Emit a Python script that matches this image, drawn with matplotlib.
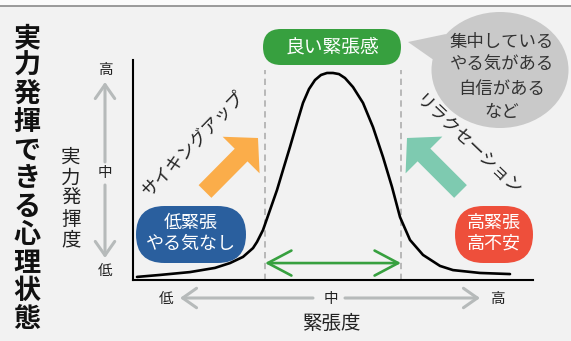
import matplotlib
matplotlib.use("Agg")
import matplotlib.pyplot as plt
from matplotlib.patches import FancyBboxPatch, Ellipse, Polygon, FancyArrow, Rectangle

plt.rcParams['font.family'] = ['Noto Sans CJK JP', 'DejaVu Sans']

# ---- data (tension 0-100 on x, performance 0-100 on y) ----
tension = [1.0, 6.75, 14.25, 20.5, 24.25, 27.5, 30.0, 31.0, 32.5, 34.25, 36.0, 37.5, 39.25,
           41.0, 42.5, 44.0, 45.5, 47.0, 48.5, 50.0, 51.5, 53.0, 55.0, 57.5, 60.0, 62.5,
           64.75, 66.75, 69.25, 72.5, 76.75, 80.0, 86.75, 94.25]
performance = [1.4, 2.3, 3.6, 5.5, 7.7, 10.5, 14.5, 17.3, 22.7, 31.8, 40.9, 50.0, 60.5,
               71.4, 80.5, 86.8, 90.9, 93.2, 94.1, 94.1, 93.6, 91.8, 87.7, 80.5, 69.5, 55.9,
               42.3, 28.6, 18.2, 11.4, 6.4, 4.5, 3.2, 2.7]
good_zone = [33, 67]
good_zone_top = 95.5
green_arrow_level = 7.7

title_text = "実力発揮できる心理状態"
y_label = "実力発揮度"
x_label = "緊張度"
level_labels = ["低", "中", "高"]
good_label = "良い緊張感"
low_label = ["低緊張", "やる気なし"]
high_label = ["高緊張", "高不安"]
bubble_lines = ["集中している", "やる気がある", "自信がある", "など"]
psych_up = "サイキングアップ"
relax = "リラクセーション"

BG = "#f2f2f2"
GRAY = "#b6baba"
GREEN = "#37a03f"
BLUE = "#2a5f9e"
RED = "#ee4f3b"
ORANGE = "#fbad4a"
TEAL = "#7ecab0"
TXT = "#222222"

W, H = 571, 341
fig = plt.figure(figsize=(W / 100, H / 100), dpi=100, facecolor=BG)

# background / overlay pixel axes
bg = fig.add_axes([0, 0, 1, 1], zorder=0)
bg.set_xlim(0, W); bg.set_ylim(H, 0); bg.axis('off')
bg.add_patch(Rectangle((0, 0), W, 6, facecolor="#fbfbfb", edgecolor='none'))
bg.plot([0, W], [6, 6], color="#8a8a8a", lw=1.2)

# chart axes
L, R, T, B = 133, 533, 60, 280
ax = fig.add_axes([L / W, (H - B) / H, (R - L) / W, (B - T) / H], zorder=1)
ax.set_facecolor('none')
ax.set_xlim(0, 100); ax.set_ylim(0, 100)
for s in ['top', 'right']:
    ax.spines[s].set_visible(False)
for s in ['left', 'bottom']:
    ax.spines[s].set_linewidth(1.5)
    ax.spines[s].set_color('black')
ax.set_xticks([]); ax.set_yticks([])

for gx in good_zone:
    ax.plot([gx, gx], [0, good_zone_top], color="#b3b3b3", lw=1.3, ls=(0, (3.5, 2.5)), zorder=1)
ax.plot(tension, performance, color='black', lw=1.9, solid_joinstyle='round',
        solid_capstyle='round', zorder=3)
ax.annotate('', xy=(good_zone[0], green_arrow_level), xytext=(good_zone[1], green_arrow_level),
            arrowprops=dict(arrowstyle='<->,head_length=0.85,head_width=0.45', lw=1.9,
                            color=GREEN, shrinkA=0, shrinkB=0, mutation_scale=20), zorder=3)

# overlay
ov = fig.add_axes([0, 0, 1, 1], zorder=2)
ov.set_facecolor('none')
ov.set_xlim(0, W); ov.set_ylim(H, 0); ov.axis('off')

# title (vertical)
for i, ch in enumerate(title_text):
    ov.text(27, 38 + i * 28.1, ch, fontsize=19.5, fontweight='bold', color="#111111",
            ha='center', va='center')
# y label (vertical)
for i, ch in enumerate(y_label):
    ov.text(71, 157 + i * 20.8, ch, fontsize=14, color=TXT, ha='center', va='center')

# vertical level scale
ov.text(105, 70, level_labels[2], fontsize=10.5, color=TXT, ha='center', va='center')
ov.text(105, 173, level_labels[1], fontsize=10.5, color=TXT, ha='center', va='center')
ov.text(105, 271, level_labels[0], fontsize=10.5, color=TXT, ha='center', va='center')
aprops = dict(arrowstyle='->,head_length=0.5,head_width=0.35', lw=2.2, color=GRAY,
              shrinkA=0, shrinkB=0, mutation_scale=20)
ov.annotate('', xy=(105, 82), xytext=(105, 162), arrowprops=aprops)
ov.annotate('', xy=(105, 258), xytext=(105, 185), arrowprops=aprops)

# horizontal level scale
ov.text(166, 299, level_labels[0], fontsize=10.5, color=TXT, ha='center', va='center')
ov.text(331, 299, level_labels[1], fontsize=10.5, color=TXT, ha='center', va='center')
ov.text(497, 299, level_labels[2], fontsize=10.5, color=TXT, ha='center', va='center')
ov.annotate('', xy=(180, 298), xytext=(313, 298), arrowprops=aprops)
ov.annotate('', xy=(480, 298), xytext=(345, 298), arrowprops=aprops)
ov.text(331, 323, x_label, fontsize=14, color=TXT, ha='center', va='center')

# pills
def pill(x0, x1, y0, y1, color):
    h = y1 - y0
    ov.add_patch(FancyBboxPatch((x0, y0), x1 - x0, h,
                                boxstyle=f"round,pad=0,rounding_size={h / 2}",
                                facecolor=color, edgecolor='none', zorder=2))

pill(263, 401, 29, 65, GREEN)
ov.text(332, 47, good_label, fontsize=13.5, color='white', ha='center', va='center', zorder=3)
pill(136, 246, 206, 263, BLUE)
ov.text(191, 223, low_label[0], fontsize=13, color='white', ha='center', va='center', zorder=3)
ov.text(191, 244, low_label[1], fontsize=13, color='white', ha='center', va='center', zorder=3)
pill(455, 533, 206, 263, RED)
ov.text(494, 223, high_label[0], fontsize=13, color='white', ha='center', va='center', zorder=3)
ov.text(494, 244, high_label[1], fontsize=13, color='white', ha='center', va='center', zorder=3)

# speech bubble
ov.add_patch(Ellipse((500, 70), 137, 116, facecolor="#c9c9c9", edgecolor='none', zorder=2))
ov.add_patch(Polygon([(408, 42), (446, 34), (438, 63)], closed=True, facecolor="#c9c9c9",
                     edgecolor='none', zorder=2))
for i, line in enumerate(bubble_lines):
    ov.text(502, 42 + i * 23.3, line, fontsize=12.5, color="#333333", ha='center', va='center', zorder=3)

# big arrows
ov.add_patch(FancyArrow(205, 191.5, 53, -53.5, width=18, head_width=52, head_length=24,
                        length_includes_head=True, facecolor=ORANGE, edgecolor='none', zorder=2))
ov.add_patch(FancyArrow(460.5, 191.5, -53.5, -53.5, width=18, head_width=52, head_length=24,
                        length_includes_head=True, facecolor=TEAL, edgecolor='none', zorder=2))

# rotated katakana labels
ov.text(194, 144, psych_up, fontsize=12.5, color=TXT, rotation=46, ha='center', va='center',
        rotation_mode='anchor')
ov.text(468, 145, relax, fontsize=12.5, color=TXT, rotation=-43.5, ha='center', va='center',
        rotation_mode='anchor')

fig.savefig("out.png", dpi=100, facecolor=BG)
